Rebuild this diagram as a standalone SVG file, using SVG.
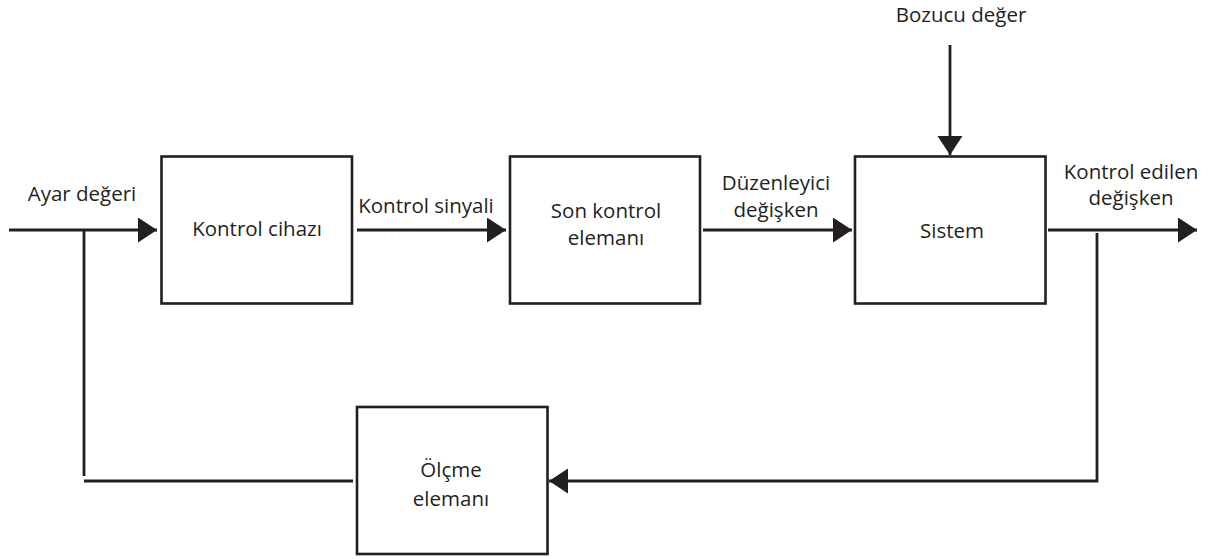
<svg xmlns="http://www.w3.org/2000/svg" width="1215" height="559" viewBox="0 0 1215 559">
<style>
.box{fill:#ffffff;stroke:#231f20;stroke-width:2.6}
.ln{fill:none;stroke:#231f20;stroke-width:2.8}
.t{font-family:"Open Sans","Liberation Sans",sans-serif;font-size:20.5px;fill:#231f20;text-anchor:middle}
</style>
<defs>
<marker id="ah" markerUnits="userSpaceOnUse" markerWidth="20" markerHeight="26" refX="19" refY="12.5" orient="auto">
<polygon points="0,0 19,12.5 0,25" fill="#231f20"/>
</marker>
</defs>
<rect width="1215" height="559" fill="#ffffff"/>
<g id="connectors">
<line class="ln" x1="9" y1="230" x2="157" y2="230" marker-end="url(#ah)"/>
<line class="ln" x1="357" y1="230" x2="506" y2="230" marker-end="url(#ah)"/>
<line class="ln" x1="703" y1="230" x2="852" y2="230" marker-end="url(#ah)"/>
<line class="ln" x1="1048" y1="230" x2="1197" y2="230" marker-end="url(#ah)"/>
<line class="ln" x1="950" y1="45" x2="950" y2="155" marker-end="url(#ah)"/>
<polyline class="ln" points="1097,233 1097,481 549,481" marker-end="url(#ah)"/>
<line class="ln" x1="84" y1="231" x2="84" y2="476"/>
<line class="ln" x1="84" y1="481" x2="353" y2="481"/>
</g>
<g id="n-ayar"><text class="t" x="82" y="201">Ayar değeri</text></g>
<g id="n-kontrol-cihazi">
<rect class="box" x="161.5" y="156.5" width="190.5" height="147"/>
<text class="t" x="257" y="236">Kontrol cihazı</text>
</g>
<g id="n-kontrol-sinyali"><text class="t" x="426" y="213">Kontrol sinyali</text></g>
<g id="n-son-kontrol">
<rect class="box" x="510" y="156.5" width="190" height="147"/>
<text class="t" x="606" y="218">Son kontrol</text>
<text class="t" x="606" y="245">elemanı</text>
</g>
<g id="n-duzenleyici">
<text class="t" x="776" y="190">Düzenleyici</text>
<text class="t" x="776" y="217">değişken</text>
</g>
<g id="n-sistem">
<rect class="box" x="855" y="156.5" width="190.5" height="147"/>
<text class="t" x="952" y="238">Sistem</text>
</g>
<g id="n-bozucu"><text class="t" x="961" y="22">Bozucu değer</text></g>
<g id="n-kontrol-edilen">
<text class="t" x="1131" y="179">Kontrol edilen</text>
<text class="t" x="1131" y="205">değişken</text>
</g>
<g id="n-olcme">
<rect class="box" x="357" y="407" width="190.5" height="147"/>
<text class="t" x="451" y="477">Ölçme</text>
<text class="t" x="451" y="506">elemanı</text>
</g>
</svg>
